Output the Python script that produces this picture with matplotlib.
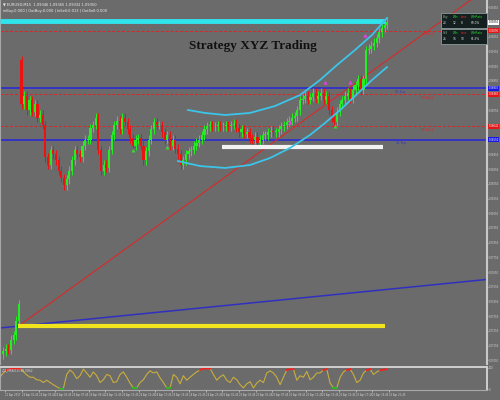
import matplotlib
matplotlib.use("Agg")
import matplotlib.pyplot as plt
import matplotlib.transforms as mtransforms
from matplotlib.patches import Rectangle
import numpy as np

# ---- price data (bar closes), EURUSD ----
first_open = 1.0709
gap_bar = 7
gap_open = 1.0909
wick = 0.0003
closes = [
    1.0711, 1.0713, 1.0712, 1.0719, 1.0722, 1.0732, 1.0743,
    1.0879, 1.0885, 1.0875, 1.0882, 1.0874, 1.0879, 1.0870, 1.0872, 1.0865,
    1.0843, 1.0838, 1.0848, 1.0845, 1.0841, 1.0834, 1.0829, 1.0824, 1.0828, 1.0834,
    1.0841, 1.0848, 1.0845, 1.0843, 1.0851, 1.0855, 1.0855, 1.0863, 1.0865, 1.0870,
    1.0848, 1.0834, 1.0838, 1.0836, 1.0848, 1.0858, 1.0865, 1.0868, 1.0862, 1.0870,
    1.0867, 1.0862, 1.0856, 1.0851, 1.0855, 1.0856, 1.0851, 1.0841, 1.0847, 1.0855,
    1.0862, 1.0867, 1.0865, 1.0865, 1.0860, 1.0855, 1.0858, 1.0851, 1.0855, 1.0849,
    1.0845, 1.0838, 1.0841, 1.0845, 1.0847, 1.0848, 1.0851, 1.0853, 1.0855, 1.0858,
    1.0862, 1.0864, 1.0865, 1.0864, 1.0864, 1.0865, 1.0864, 1.0864, 1.0865, 1.0864,
    1.0865, 1.0866, 1.0863, 1.0860, 1.0862, 1.0859, 1.0860, 1.0856, 1.0855, 1.0857,
    1.0853, 1.0855, 1.0858, 1.0858, 1.0860, 1.0861, 1.0860, 1.0860, 1.0862, 1.0864,
    1.0865, 1.0867, 1.0868, 1.0870, 1.0871, 1.0875, 1.0882, 1.0883, 1.0885, 1.0882,
    1.0884, 1.0887, 1.0883, 1.0885, 1.0887, 1.0882, 1.0885, 1.0875, 1.0870, 1.0867,
    1.0874, 1.0879, 1.0882, 1.0885, 1.0887, 1.0883, 1.0889, 1.0892, 1.0896, 1.0889,
    1.0896, 1.0916, 1.0917, 1.0919, 1.0921, 1.0924, 1.0928, 1.0931, 1.0933, 1.0935,
]
current_price = 1.0935

# ---- drawn objects (bar index, price) ----
cyan_level, cyan_span = 1.0936, (-1.1, 144.2)
white_level, white_span = 1.0850, (82.6, 143.4)
yellow_level, yellow_span = 1.0728, (5.7, 144.2)
red_levels = [1.0929, 1.0886, 1.0864]
red_level_names = ["R2 Res.2", "R1 Res.1", "S1 Res.1"]
blue_levels = [1.0890, 1.0855]
blue_level_names = ["R1 Sup", "S1 Sup"]
red_trend = ([6.4, 178.0], [1.0729, 1.0952])
blue_trend = ([-1.1, 182.6], [1.0727, 1.0760])
upper_arc_x = [69.8, 76.2, 83.8, 93.2, 102.6, 112.1, 119.6, 126.0, 132.8, 139.2, 144.9]
upper_arc_y = [1.08752, 1.08732, 1.08718, 1.08732, 1.08779, 1.08854, 1.08956, 1.09058, 1.0916, 1.09262, 1.09378]
lower_arc_x = [66.0, 74.3, 83.8, 93.2, 100.8, 108.3, 115.8, 121.5, 127.2, 132.8, 139.2, 144.9]
lower_arc_y = [1.08405, 1.08371, 1.08358, 1.08378, 1.08426, 1.08494, 1.08582, 1.08664, 1.08752, 1.08847, 1.08956, 1.09044]
buy_arrows = ([108.3, 121.5, 131.0, 136.6], [1.0867, 1.0894, 1.0894, 1.0926])
sell_arrows = ([49.1, 61.9, 125.3], [1.0848, 1.0850, 1.0864])

# ---- oscillator (0..100) ----
osc = [
    56, 76, 90, 94, 97, 97, 94, 83, 67, 56, 56, 44, 42, 31, 42, 31, 21, 11, 3, 3,
    69, 90, 76, 49, 63, 94, 76, 56, 81, 63, 31, 44, 69, 63, 31, 35, 69, 81, 56, 28,
    6, 6, 31, 44, 69, 86, 76, 81, 53, 31, 6, 6, 69, 56, 25, 63, 42, 56, 69, 81,
    90, 97, 97, 97, 69, 42, 58, 67, 42, 31, 56, 44, 21, 6, 25, 35,
    6, 28, 42, 31, 76, 86, 76, 56, 21, 56, 90, 94, 94, 42, 63, 56, 83, 44, 56, 76,
    76, 90, 94, 28, 6, 6, 56, 81, 90, 94, 69, 31, 42, 76, 90, 94, 69, 81, 89, 91, 94,
]
osc_range = (-1.13, 144.8)

time_labels = [
    "21 Apr 2017", "24 Apr 01:45", "24 Apr 03:45", "24 Apr 05:45", "24 Apr 07:45",
    "24 Apr 09:45", "24 Apr 11:45", "24 Apr 13:45", "24 Apr 15:45", "24 Apr 17:45",
    "24 Apr 19:45", "24 Apr 21:45", "24 Apr 23:45", "25 Apr 01:45", "25 Apr 03:45",
    "25 Apr 05:45", "25 Apr 07:45", "25 Apr 09:45", "25 Apr 11:45", "25 Apr 13:45",
    "25 Apr 15:45", "25 Apr 17:45", "25 Apr 19:45", "25 Apr 21:45",
]

BG = "#6b6b6b"
LIGHT = "#d4d4d4"
W, H = 500, 400
FS = 2.1
FS_SCALE = 1.8


def fxy(px, py):
    return px / W, 1 - py / H


fig = plt.figure(figsize=(5, 4), dpi=100, facecolor=BG)
ax = fig.add_axes([0, 1 - 364 / H, 487 / W, 364 / H], facecolor=BG)
axo = fig.add_axes([0, 10 / H, 487 / W, 23 / H], facecolor=BG)

xlim = (-1.13, 182.6)
ax.set_xlim(*xlim)
ax.set_ylim(1.07025, 1.0950)

# candles
c = np.array(closes)
o = np.concatenate([[first_open], c[:-1]])
o[gap_bar] = gap_open
idx = np.arange(len(c))
hi = np.maximum(o, c) + wick
lo = np.minimum(o, c) - wick
up = c >= o
cols = np.where(up, "#22ee22", "#ee1111")
ax.vlines(idx, lo, hi, colors=cols, linewidth=0.7, zorder=3)
body = np.maximum(np.abs(c - o), 0.00006)
ax.bar(idx, body, bottom=np.minimum(o, c), width=0.8, color=cols, linewidth=0, zorder=3)

# levels
for lv in red_levels:
    ax.axhline(lv, color="#e02424", lw=0.7, ls=(0, (3, 2)), zorder=2)
for lv in blue_levels:
    ax.axhline(lv, color="#3434c4", lw=1.4, zorder=2)
ax.plot(cyan_span, [cyan_level] * 2, color="#30e4ee", lw=3.5, solid_capstyle="butt", zorder=4)
ax.plot(white_span, [white_level] * 2, color="#f2f2f2", lw=3, solid_capstyle="butt", zorder=4)
ax.plot(yellow_span, [yellow_level] * 2, color="#f2e41c", lw=3, solid_capstyle="butt", zorder=4)
ax.plot(*red_trend, color="#d82a2a", lw=0.8, zorder=2)
ax.plot(*blue_trend, color="#3030c0", lw=1.1, zorder=2)
ax.plot(upper_arc_x, upper_arc_y, color="#3cc4ea", lw=1.3, zorder=4)
ax.plot(lower_arc_x, lower_arc_y, color="#3cc4ea", lw=1.3, zorder=4)
ax.scatter(*buy_arrows, marker="^", s=10, color="#e040e0", zorder=5, linewidths=0)
ax.scatter(*sell_arrows, marker="^", s=8, color="#33dd33", zorder=5, linewidths=0)

for lv, name in zip(red_levels, red_level_names):
    ax.text(160, lv - 0.0001, name, color="#e02424", fontsize=FS, ha="center", va="top")
for lv, name in zip(blue_levels, blue_level_names):
    ax.text(150, lv - 0.0001, name, color="#3434c4", fontsize=FS, ha="center", va="top")

# right price scale (tick labels hidden where a level box sits)
box_levels = [current_price] + red_levels + blue_levels
ticks = [t for t in np.arange(1.0705, 1.0950, 0.0010)
         if min(abs(t - b) for b in box_levels) > 0.0004]
ax.yaxis.tick_right()
ax.set_yticks(ticks)
ax.set_yticklabels([f"{t:.5f}" for t in ticks])
ax.tick_params(axis="y", labelsize=FS_SCALE, colors=LIGHT, length=1.0, width=0.5, pad=0.4)
ax.set_xticks([])
blend = mtransforms.blended_transform_factory(ax.transAxes, ax.transData)
boxes = [(current_price, "white", "black")] + [(lv, "#e01818", "white") for lv in red_levels] \
    + [(lv, "#1818e0", "white") for lv in blue_levels]
for lv, fc, tc in boxes:
    ax.text(1.003, lv, f"{lv:.5f}", transform=blend, fontsize=FS_SCALE, color=tc, va="center",
            ha="left", bbox=dict(facecolor=fc, edgecolor="none", pad=0.4), zorder=6)
for s in ["top", "bottom"]:
    ax.spines[s].set_visible(False)
ax.spines["left"].set_color("#a8a8a8")
ax.spines["right"].set_color("#c8c8c8")
ax.spines["right"].set_linewidth(1.5)

# oscillator
ov = np.array(osc, dtype=float)
ox = np.linspace(osc_range[0], osc_range[1], len(ov))
axo.set_xlim(*xlim)
axo.set_ylim(-4, 104)
axo.plot(ox, ov, color="#c8ae3c", lw=0.8)
axo.plot(ox, np.ma.masked_less(ov, 86), color="#ee2020", lw=1.3)
axo.plot(ox, np.ma.masked_greater(ov, 8), color="#22bb22", lw=1.3)
axo.set_yticks([0, 100])
axo.set_yticklabels(["0", "100"])
axo.yaxis.tick_right()
axo.tick_params(axis="y", labelsize=FS_SCALE, colors=LIGHT, length=1.0, width=0.5, pad=0.4)
tick_pos = np.linspace(0.8, 145.7, len(time_labels))
axo.set_xticks(tick_pos)
axo.set_xticklabels(time_labels, ha="left")
axo.tick_params(axis="x", labelsize=FS_SCALE, colors=LIGHT, length=1.5, width=0.5, pad=1)
for s in ["top", "right"]:
    axo.spines[s].set_color("#cfcfcf")
    axo.spines[s].set_linewidth(1.4)
axo.spines["left"].set_color("#a8a8a8")
axo.spines["bottom"].set_color("#a8a8a8")
axo.text(0.005, 0.93, "ZZ_MKA(14) 98.0862", transform=axo.transAxes, fontsize=FS,
         color=LIGHT, va="top")

# texts
fig.text(*fxy(3, 4), "\u25bc EURUSD,M15  1.09346 1.09365 1.09332 1.09350", fontsize=2.6,
         color="#eeeeee", va="center")
fig.text(*fxy(3, 11), "inBuy:0.000 | OutBuy:0.000 | InSell:0.013 | OutSell:0.000",
         fontsize=2.6, color="#eeeeee", va="center")
fig.text(*fxy(253, 46), "Strategy XYZ Trading", fontsize=9.5, fontweight="bold",
         family="Liberation Serif", color="#111111", ha="center", va="center")

# stats table
rows = [("Buy", "20", "12", "8", "60.0%"), ("Sell", "26", "16", "10", "61.5%")]
col_x = [443, 453, 461, 471]
for k, row in enumerate(rows):
    top = 13 + 16 * k
    x0, y0 = fxy(441, top + 15)
    fig.patches.append(Rectangle((x0, y0), 46 / W, 15 / H, transform=fig.transFigure,
                                 facecolor="#13201f", edgecolor="#8a9a9a", lw=0.6))
    heads = [(row[0], "#9ab89a"), ("Win", "#33dd33"), ("Lose", "#ee2222"), ("WinRate", "#33dd33")]
    for cx, (txt, col) in zip(col_x, heads):
        fig.text(*fxy(cx, top + 4), txt, fontsize=FS, color=col, va="center")
    for cx, txt in zip(col_x, row[1:]):
        fig.text(*fxy(cx, top + 10.5), txt, fontsize=FS, color="#e6e6e6", va="center")

fig.savefig("out.png", dpi=100, facecolor=BG)
